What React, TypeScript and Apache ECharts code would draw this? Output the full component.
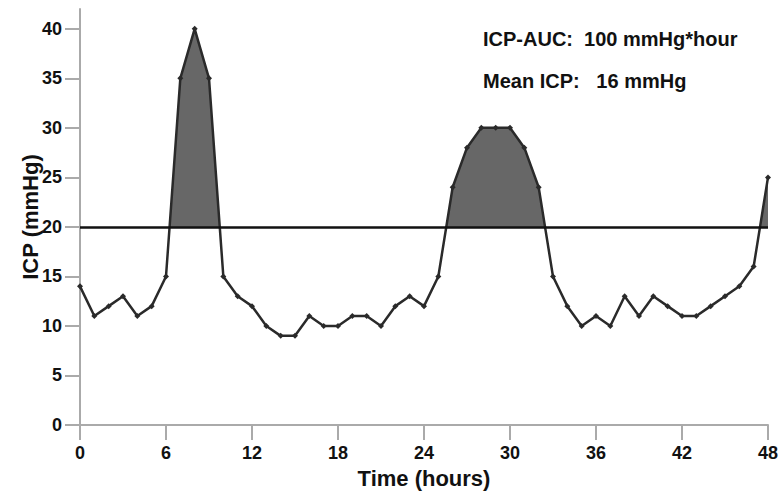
import React, { useEffect, useRef } from "react";
import * as echarts from "echarts";

const hours: number[] = [
  0, 1, 2, 3, 4, 5, 6, 7, 8, 9, 10, 11, 12, 13, 14, 15, 16, 17, 18, 19, 20, 21, 22, 23, 24,
  25, 26, 27, 28, 29, 30, 31, 32, 33, 34, 35, 36, 37, 38, 39, 40, 41, 42, 43, 44, 45, 46, 47, 48,
];
const icp: number[] = [
  14, 11, 12, 13, 11, 12, 15, 35, 40, 35, 15, 13, 12, 10, 9, 9, 11, 10, 10, 11, 11, 10, 12, 13, 12,
  15, 24, 28, 30, 30, 30, 28, 24, 15, 12, 10, 11, 10, 13, 11, 13, 12, 11, 11, 12, 13, 14, 16, 25,
];
const threshold = 20;
const yTicks: number[] = [0, 5, 10, 15, 20, 25, 30, 35, 40];
const annotations: string[] = ["ICP-AUC:  100 mmHg*hour", "Mean ICP:   16 mmHg"];

const FONT = "'Liberation Sans', Arial, sans-serif";

export default function App() {
  const ref = useRef<HTMLDivElement>(null);
  useEffect(() => {
    document.body.style.margin = "0";
    if (!ref.current) return;
    const chart = echarts.init(ref.current, null, { renderer: "svg" });
    const pts = hours.map((h, i) => [h, icp[i]]);
    chart.setOption({
      animation: false,
      backgroundColor: "#ffffff",
      grid: { left: 80, right: 13, top: 9, bottom: 70, containLabel: false },
      xAxis: {
        type: "value",
        min: 0,
        max: 48,
        interval: 6,
        name: "Time (hours)",
        nameLocation: "middle",
        nameGap: 42,
        nameTextStyle: { fontFamily: FONT, fontWeight: "bold", fontSize: 22, color: "#111" },
        axisLine: { show: true, onZero: false, lineStyle: { color: "#aaaaaa", width: 2 } },
        axisTick: { show: true, length: 15, lineStyle: { color: "#aaaaaa", width: 2 } },
        axisLabel: {
          margin: 19,
          fontFamily: FONT,
          fontWeight: "bold",
          fontSize: 18,
          color: "#111",
        },
        splitLine: { show: false },
      },
      yAxis: {
        type: "value",
        min: 0,
        max: 42,
        name: "ICP (mmHg)",
        nameLocation: "middle",
        nameGap: 39,
        nameMoveOverlap: false,
        nameTextStyle: { fontFamily: FONT, fontWeight: "bold", fontSize: 22, color: "#111" },
        axisLine: { show: true, lineStyle: { color: "#aaaaaa", width: 2 } },
        axisTick: { show: true, length: 15, lineStyle: { color: "#aaaaaa", width: 2 }, customValues: yTicks },
        axisLabel: {
          margin: 18,
          fontFamily: FONT,
          fontWeight: "bold",
          fontSize: 18,
          color: "#111",
          customValues: yTicks,
        },
        splitLine: { show: false },
      },
      visualMap: {
        type: "piecewise",
        show: false,
        dimension: 1,
        seriesIndex: 0,
        pieces: [
          { gte: 0, lt: threshold, color: "rgba(255,255,255,0)" },
          { gte: threshold, lte: 42, color: "#676767" },
        ],
      },
      series: [
        {
          type: "line",
          data: pts,
          symbol: "none",
          lineStyle: { width: 0, opacity: 0 },
          areaStyle: { opacity: 1 },
          z: 1,
          silent: true,
        },
        {
          type: "line",
          data: pts,
          symbol: "diamond",
          symbolSize: 6,
          itemStyle: { color: "#2a2a2a" },
          lineStyle: { color: "#2a2a2a", width: 2.5 },
          z: 3,
          markLine: {
            silent: true,
            symbol: "none",
            label: { show: false },
            lineStyle: { color: "#111111", width: 2.5, type: "solid" },
            data: [{ yAxis: threshold }],
          },
        },
      ],
      graphic: annotations.map((t, i) => ({
        type: "text",
        left: 483,
        top: 29 + i * 42,
        style: { text: t, fontFamily: FONT, fontWeight: "bold", fontSize: 20, fill: "#111" },
      })),
    });
    return () => chart.dispose();
  }, []);
  return <div ref={ref} style={{ width: 781, height: 495 }} />;
}
